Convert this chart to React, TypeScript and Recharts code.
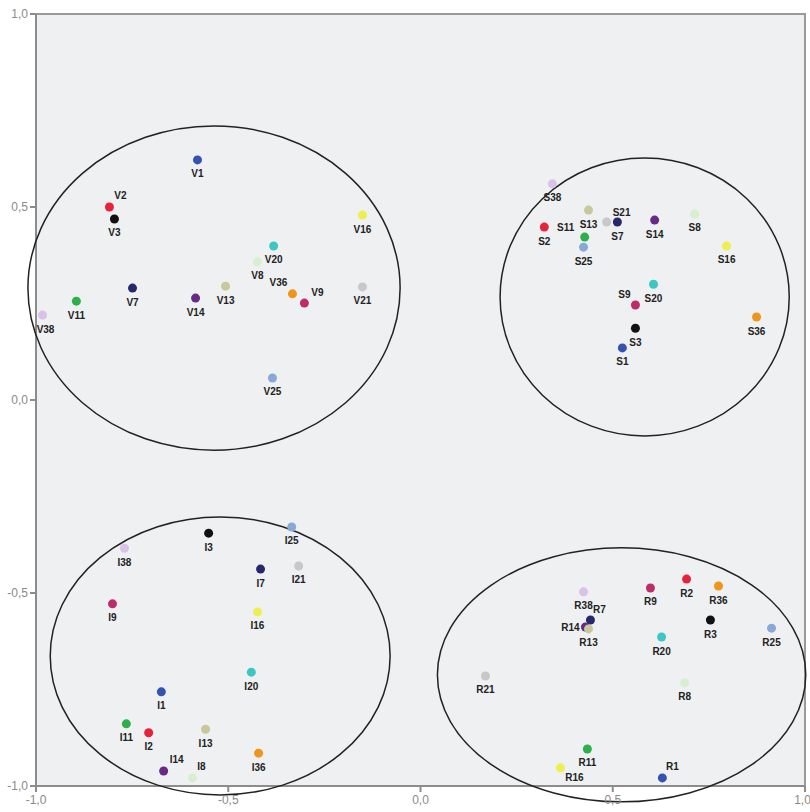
import React from 'react';
import { ScatterChart, Scatter, XAxis, YAxis, ReferenceArea, ReferenceDot } from 'recharts';

// cluster points (name, dimension 1, dimension 2)
const V_POINTS = [
  { name: 'V1', x: -0.58, y: 0.622 },
  { name: 'V2', x: -0.809, y: 0.5 },
  { name: 'V3', x: -0.796, y: 0.469 },
  { name: 'V7', x: -0.749, y: 0.29 },
  { name: 'V11', x: -0.895, y: 0.256 },
  { name: 'V38', x: -0.983, y: 0.22 },
  { name: 'V14', x: -0.585, y: 0.264 },
  { name: 'V13', x: -0.507, y: 0.295 },
  { name: 'V8', x: -0.424, y: 0.358 },
  { name: 'V20', x: -0.382, y: 0.399 },
  { name: 'V36', x: -0.333, y: 0.275 },
  { name: 'V9', x: -0.302, y: 0.251 },
  { name: 'V16', x: -0.151, y: 0.479 },
  { name: 'V21', x: -0.151, y: 0.293 },
  { name: 'V25', x: -0.385, y: 0.057 },
];

const S_POINTS = [
  { name: 'S38', x: 0.343, y: 0.56 },
  { name: 'S13', x: 0.437, y: 0.492 },
  { name: 'S2', x: 0.322, y: 0.448 },
  { name: 'S11', x: 0.427, y: 0.422 },
  { name: 'S25', x: 0.424, y: 0.396 },
  { name: 'S21', x: 0.484, y: 0.461 },
  { name: 'S7', x: 0.512, y: 0.461 },
  { name: 'S14', x: 0.609, y: 0.466 },
  { name: 'S8', x: 0.713, y: 0.482 },
  { name: 'S16', x: 0.796, y: 0.399 },
  { name: 'S20', x: 0.606, y: 0.3 },
  { name: 'S9', x: 0.559, y: 0.246 },
  { name: 'S3', x: 0.559, y: 0.186 },
  { name: 'S1', x: 0.525, y: 0.135 },
  { name: 'S36', x: 0.874, y: 0.215 },
];

const I_POINTS = [
  { name: 'I3', x: -0.551, y: -0.345 },
  { name: 'I25', x: -0.335, y: -0.329 },
  { name: 'I38', x: -0.77, y: -0.384 },
  { name: 'I7', x: -0.416, y: -0.438 },
  { name: 'I21', x: -0.317, y: -0.43 },
  { name: 'I9', x: -0.801, y: -0.528 },
  { name: 'I16', x: -0.424, y: -0.549 },
  { name: 'I20', x: -0.44, y: -0.705 },
  { name: 'I1', x: -0.674, y: -0.756 },
  { name: 'I11', x: -0.765, y: -0.839 },
  { name: 'I2', x: -0.707, y: -0.862 },
  { name: 'I13', x: -0.559, y: -0.853 },
  { name: 'I36', x: -0.421, y: -0.915 },
  { name: 'I14', x: -0.668, y: -0.961 },
  { name: 'I8', x: -0.593, y: -0.979 },
];

const R_POINTS = [
  { name: 'R38', x: 0.424, y: -0.497 },
  { name: 'R7', x: 0.442, y: -0.57 },
  { name: 'R14', x: 0.429, y: -0.588 },
  { name: 'R13', x: 0.437, y: -0.593 },
  { name: 'R9', x: 0.598, y: -0.487 },
  { name: 'R2', x: 0.692, y: -0.464 },
  { name: 'R36', x: 0.775, y: -0.482 },
  { name: 'R3', x: 0.754, y: -0.57 },
  { name: 'R25', x: 0.913, y: -0.591 },
  { name: 'R20', x: 0.627, y: -0.614 },
  { name: 'R21', x: 0.169, y: -0.715 },
  { name: 'R8', x: 0.687, y: -0.733 },
  { name: 'R11', x: 0.434, y: -0.904 },
  { name: 'R16', x: 0.364, y: -0.953 },
  { name: 'R1', x: 0.629, y: -0.979 },
];

// cluster outlines: centre and radii in data units
const CLUSTERS = [
  { id: 'V', x: -0.537, y: 0.29, rx: 0.484, ry: 0.42 },
  { id: 'S', x: 0.583, y: 0.267, rx: 0.376, ry: 0.36 },
  { id: 'I', x: -0.521, y: -0.663, rx: 0.442, ry: 0.36 },
  { id: 'R', x: 0.523, y: -0.712, rx: 0.479, ry: 0.329 },
];

const AXIS_TICKS = [-1, -0.5, 0, 0.5, 1];

// colour by item number
const ITEM_COLORS: Record<string, string> = {
  '1': '#3552b0',
  '2': '#e8223a',
  '3': '#111111',
  '7': '#27276e',
  '8': '#d6efd0',
  '9': '#c02c6a',
  '11': '#2bb04a',
  '13': '#c9c79c',
  '14': '#682a86',
  '16': '#eeee50',
  '20': '#3ec6c4',
  '21': '#c8c8c8',
  '25': '#88a8d6',
  '36': '#f0951c',
  '38': '#d8c2e8',
};

// label placement relative to the marker (default: centred below)
const LABEL_OFFSET: Record<string, [number, number]> = {
  V2: [11, -12],
  V38: [3, 14],
  V36: [-14, -11],
  V9: [13, -11],
  S11: [-19, -10],
  S21: [15, -10],
  S9: [-11, -11],
  I14: [13, -11],
  I8: [9, -11],
  R7: [9, -11],
  R14: [-15, 1],
  R16: [14, 10],
  R1: [10, -11],
};

const W = 810;
const H = 812;
const M = { top: 14, right: 5, bottom: 0, left: 0 };
const Y_W = 36;
const X_H = 26;
const PX_X = (W - M.left - M.right - Y_W) / 2;
const PX_Y = (H - M.top - M.bottom - X_H) / 2;

const fmt = (v: number) => v.toFixed(1).replace('.', ',');

const PointShape = (props: any) => {
  const { cx, cy, payload } = props;
  if (cx == null || cy == null) return null;
  const num = payload.name.slice(1);
  const [dx, dy] = LABEL_OFFSET[payload.name] || [0, 14];
  return (
    <g>
      <circle cx={cx} cy={cy} r={4.5} fill={ITEM_COLORS[num] || '#999'} />
      <text
        x={cx + dx}
        y={cy + dy}
        textAnchor="middle"
        dominantBaseline="central"
        fontSize={10}
        fontWeight="bold"
        fontFamily="'Liberation Sans', Arial, sans-serif"
        fill="#222"
      >
        {payload.name}
      </text>
    </g>
  );
};

const tickStyle = { fontSize: 12, fill: '#8a8a8a', fontFamily: "'Liberation Sans', Arial, sans-serif" };

export default function App() {
  return (
    <div style={{ position: 'absolute', left: 0, top: 0, width: W, height: H, background: '#fff' }}>
      <ScatterChart width={W} height={H} margin={M}>
        <XAxis
          type="number"
          dataKey="x"
          domain={[-1, 1]}
          ticks={AXIS_TICKS}
          tickFormatter={fmt}
          height={X_H}
          tick={tickStyle}
          tickSize={6}
          tickMargin={3}
          stroke="#8c8c8c"
          strokeWidth={2}
          allowDataOverflow
        />
        <YAxis
          type="number"
          dataKey="y"
          domain={[-1, 1]}
          ticks={AXIS_TICKS}
          tickFormatter={fmt}
          width={Y_W}
          tick={tickStyle}
          tickSize={6}
          tickMargin={2}
          stroke="#8c8c8c"
          strokeWidth={2}
          allowDataOverflow
        />
        <ReferenceArea x1={-1} x2={1} y1={-1} y2={1} fill="#eef0f1" fillOpacity={1} stroke="#9a9a9a" strokeWidth={2} />
        {CLUSTERS.map(c => (
          <ReferenceDot
            key={c.id}
            x={c.x}
            y={c.y}
            shape={(p: any) => (
              <ellipse cx={p.cx} cy={p.cy} rx={c.rx * PX_X} ry={c.ry * PX_Y} fill="none" stroke="#222" strokeWidth={1.5} />
            )}
          />
        ))}
        <Scatter data={V_POINTS} shape={PointShape} isAnimationActive={false} />
        <Scatter data={S_POINTS} shape={PointShape} isAnimationActive={false} />
        <Scatter data={I_POINTS} shape={PointShape} isAnimationActive={false} />
        <Scatter data={R_POINTS} shape={PointShape} isAnimationActive={false} />
      </ScatterChart>
    </div>
  );
}
